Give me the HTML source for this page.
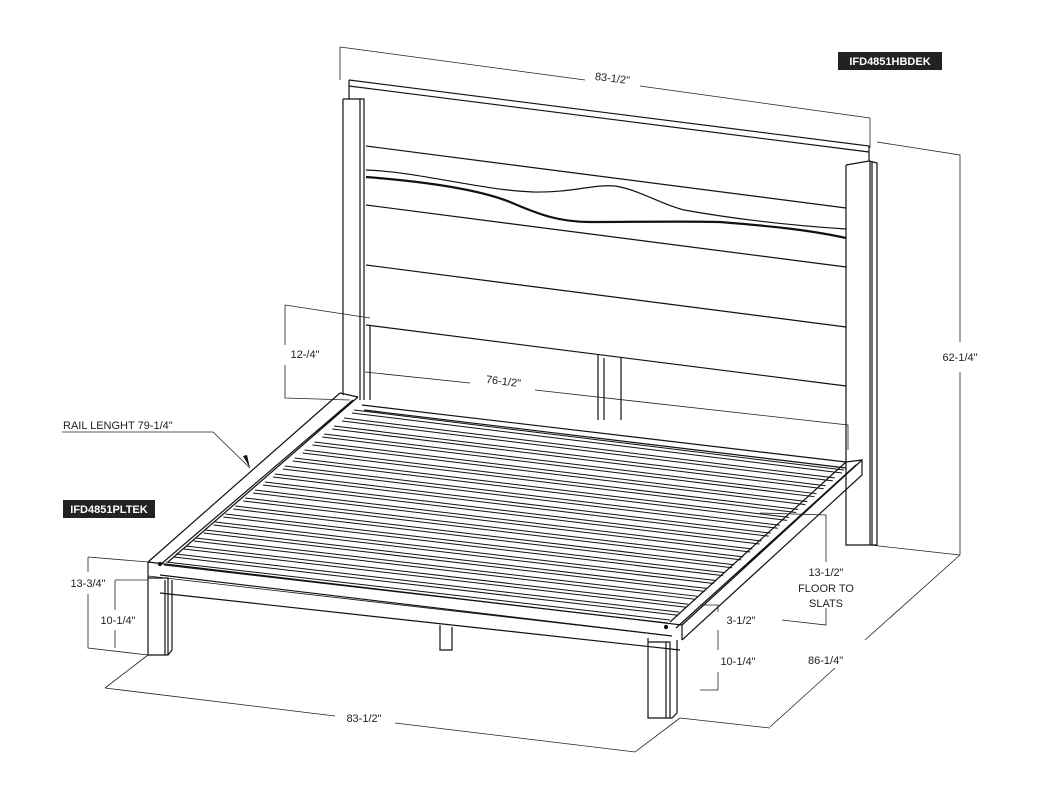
<!DOCTYPE html>
<html><head><meta charset="utf-8"><style>
html,body{margin:0;padding:0;background:#fff;}
svg{display:block;}
text{font-family:"Liberation Sans",sans-serif;font-size:11px;fill:#222;}
</style></head><body>
<svg id="s" width="1040" height="800" viewBox="0 0 1040 800" xmlns="http://www.w3.org/2000/svg">
<g fill="none" stroke="#111" stroke-width="1.2">
<path d="M349,80 L869,146 L869,161 M349,80 L349,99 M349,86 L869,152"/>
<path d="M343,99 L364,99 L364,400 M343,99 L343,395 M360,99 L360,400" />
<path d="M846,165 L846,545 L870,545 L870,161 M846,165 L869,161 L877,163 L877,545 L870,545 M872,162 L872,545"/>
<path d="M366,146 L846,208"/>
<path d="M366,170 C420,172 480,190 533,192 C570,193 595,184 615,186 C640,190 660,204 684,210 C740,220 800,226 846,229"/>
<path d="M366,177 C430,182 480,190 510,202 C540,215 560,222 590,222 C640,222 680,221 720,222 C770,226 810,230 846,238" stroke-width="2.2"/>
<path d="M366,205 L846,267"/>
<path d="M366,265 L846,327"/>
<path d="M366,325 L846,386"/>
<path d="M370,325 L370,400 M598,355 L598,420 M621,358 L621,420 M604,358 L604,420"/>
<path d="M362,405 L846,462 M364,410 L846,468"/>
<path d="M340,393 L148,562 M358,397 L168,562 M353,400 L160,565 M340,393 L358,397"/>
<path d="M148,562 L682,625 L682,640 M160,575 L672,636 M148,562 L148,576 M160,593 L680,650" />
<path d="M148,576 L672,636" stroke-width="0.8"/>
<path d="M682,625 L862,460 L862,475 L682,640 M670,622 L846,462 M676,628 L856,465 M846,462 L862,460"/>
<path d="M148,576 L148,655 L168,655 L172,650 L172,580 M148,578 L168,578 L168,655 M165,580 L165,655"/>
<path d="M648,638 L648,718 L672,718 L677,713 L677,640 M648,642 L670,642 L670,718 M666,642 L666,718"/>
<path d="M440,625 L440,650 L452,650 L452,627"/>
<circle cx="160" cy="564" r="1.5" fill="#111"/><circle cx="666" cy="627" r="1.5" fill="#111"/>
<g id="slats" stroke-width="1"></g>
</g>
<g fill="none" stroke="#222" stroke-width="0.8">
<path d="M340,47 L340,80 M870,118 L870,148 M340,47 L585,80 M640,86 L870,118"/>
<path d="M877,142 L960,155 L960,342 M960,372 L960,555 M870,545 L960,555"/>
<path d="M960,555 L865,640 M835,668 L770,727 M680,718 L770,728"/>
<path d="M105,688 L148,655 M105,688 L335,716 M395,723 L635,752 L680,718"/>
<path d="M88,557 L148,562 M88,557 L88,572 M88,594 L88,648 L148,655 M115,580 L148,580 M115,580 L115,610 M115,630 L115,648"/>
<path d="M285,305 L370,318 M285,305 L285,345 M285,365 L285,398 L350,400"/>
<path d="M365,372 L470,383 M535,390 L848,425 L848,450"/>
<path d="M62,432 L213,432 L250,468"/>
<path d="M760,513 L826,515 L826,562 M826,608 L826,625 L782,620"/>
<path d="M700,605 L718,605 L718,612 M718,630 L718,650 M718,672 L718,690 L700,690"/>
</g>
<path d="M250,468 L243,456 L247,455 Z" fill="#111"/>
<text x="612" y="82" transform="rotate(7 612 82)" text-anchor="middle">83-1/2"</text>
<text x="503" y="385" transform="rotate(7 503 385)" text-anchor="middle">76-1/2"</text>
<text x="960" y="361" text-anchor="middle">62-1/4"</text>
<text x="808" y="664">86-1/4"</text>
<text x="364" y="722" text-anchor="middle">83-1/2"</text>
<text x="88" y="587" text-anchor="middle">13-3/4"</text>
<text x="118" y="624" text-anchor="middle">10-1/4"</text>
<text x="305" y="358" text-anchor="middle">12-/4"</text>
<text x="63" y="429">RAIL LENGHT 79-1/4"</text>
<text x="826" y="576" text-anchor="middle">13-1/2"</text>
<text x="826" y="592" text-anchor="middle">FLOOR TO</text>
<text x="826" y="607" text-anchor="middle">SLATS</text>
<text x="741" y="624" text-anchor="middle">3-1/2"</text>
<text x="738" y="665" text-anchor="middle">10-1/4"</text>
<rect x="838" y="52" width="104" height="18" fill="#222"/>
<text x="890" y="65" text-anchor="middle" style="fill:#fff;font-weight:bold;font-size:11px">IFD4851HBDEK</text>
<rect x="63" y="500" width="92" height="18" fill="#222"/>
<text x="109" y="513" text-anchor="middle" style="fill:#fff;font-weight:bold;font-size:11px">IFD4851PLTEK</text>
</svg>
<script>
var g=document.getElementById('slats'),h='';
for(var i=0;i<20;i++){var t=i/19;
var lx=354-188*t,ly=410+152*t,rx=844-174*t,ry=470+150*t;
h+='<path d="M'+lx+','+ly+' L'+rx+','+ry+' M'+(lx-2)+','+(ly+3)+' L'+(rx-2)+','+(ry+3)+'"/>';}
g.innerHTML=h;
</script>
</body></html>
